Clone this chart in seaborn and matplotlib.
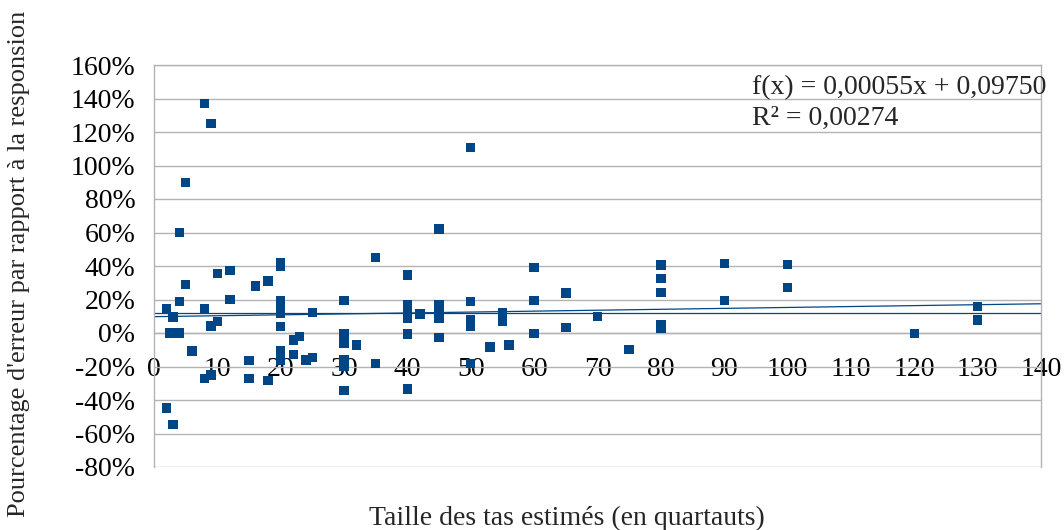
import numpy as np
import pandas as pd
import matplotlib
matplotlib.use("Agg")
import matplotlib.pyplot as plt
from matplotlib.ticker import FuncFormatter
import seaborn as sns

# ---- data ----
taille = [2, 2, 2.5, 3, 3, 4, 4, 4, 5, 5, 6, 8, 8, 8, 9, 9, 9, 10, 10, 12, 12,
          15, 15, 16, 18, 18, 20, 20, 20, 20, 20, 20, 20, 20, 22, 22, 23, 24,
          25, 25, 30, 30, 30, 30, 30, 30, 32, 35, 35, 40, 40, 40, 40, 40, 40,
          40, 42, 45, 45, 45, 45, 45, 50, 50, 50, 50, 50, 53, 55, 55, 55, 56,
          60, 60, 60, 65, 65, 70, 75, 80, 80, 80, 80, 80, 90, 90, 100, 100,
          120, 130, 130]
erreur = [0.143, -0.448, 0.0, 0.095, -0.545, 0.60, 0.187, 0.0, 0.90, 0.29,
          -0.107, 1.37, 0.143, -0.27, 1.25, 0.042, -0.25, 0.356, 0.068, 0.372,
          0.20, -0.165, -0.27, 0.28, 0.31, -0.285, 0.42, 0.40, 0.19, 0.15,
          0.12, 0.038, -0.107, -0.165, -0.042, -0.127, -0.022, -0.16, 0.124,
          -0.147, 0.195, -0.005, -0.06, -0.16, -0.20, -0.345, -0.072, 0.452,
          -0.181, 0.346, 0.17, 0.14, 0.11, 0.09, -0.006, -0.334, 0.113, 0.62,
          0.17, 0.12, 0.09, -0.026, 1.106, 0.187, 0.078, 0.042, -0.181, -0.084,
          0.12, 0.10, 0.07, -0.072, 0.39, 0.193, -0.004, 0.24, 0.032, 0.10,
          -0.10, 0.406, 0.326, 0.241, 0.05, 0.03, 0.416, 0.193, 0.41, 0.273,
          -0.004, 0.159, 0.078]
trend_slope = 0.00055
trend_intercept = 0.09750
mean_level = 0.121
equation_text = "f(x) = 0,00055x + 0,09750"
r2_text = "R² = 0,00274"
x_label = "Taille des tas estimés (en quartauts)"
y_label = "Pourcentage d'erreur par rapport à la responsion"
x_ticks = list(range(0, 141, 10))
y_ticks = [-0.8, -0.6, -0.4, -0.2, 0.0, 0.2, 0.4, 0.6, 0.8, 1.0, 1.2, 1.4, 1.6]

df = pd.DataFrame({"taille": taille, "erreur": erreur})

sns.set_theme(style="white")
plt.rcParams["font.family"] = ["Liberation Serif", "DejaVu Serif"]
plt.rcParams["axes.unicode_minus"] = False

W, H = 1064, 530
fig = plt.figure(figsize=(W / 100, H / 100), dpi=100)
ax = fig.add_axes([154 / W, (H - 467) / H, 887 / W, 402 / H])

blue = "#004586"
grey = "#b3b3b3"

xs = np.array([x_ticks[0], x_ticks[-1]], dtype=float)
ax.plot(xs, [mean_level, mean_level], color=blue, lw=0.9, zorder=2)
ax.plot(xs, trend_intercept + trend_slope * xs, color=blue, lw=0.9, zorder=2)

sns.scatterplot(data=df, x="taille", y="erreur", marker="s", s=46,
                color=blue, edgecolor="none", linewidth=0, ax=ax, zorder=3,
                clip_on=False)

ax.set_xlim(x_ticks[0], x_ticks[-1])
ax.set_ylim(y_ticks[0], y_ticks[-1])
ax.set_xticks(x_ticks)
ax.set_yticks(y_ticks)
ax.yaxis.set_major_formatter(FuncFormatter(lambda v, p: f"{v * 100:.0f}%"))
ax.grid(axis="y", color=grey, lw=1.0)
ax.grid(axis="x", visible=False)
ax.set_axisbelow(True)

for side in ["left", "right", "top", "bottom"]:
    ax.spines[side].set_color(grey)
    ax.spines[side].set_linewidth(1.0)
ax.spines["bottom"].set_position(("data", 0))

ax.tick_params(axis="both", which="major", labelsize=20, colors="black",
               color=grey, width=1.0, length=8.5)
ax.tick_params(axis="x", pad=9, direction="out")
ax.tick_params(axis="y", pad=5, direction="out")
ax.set_xlabel("")
ax.set_ylabel("")

fig.text(567 / W, 1 - 518 / H, x_label, fontsize=20, ha="center", va="center")
fig.text(19 / W, 1 - 264 / H, y_label, fontsize=19, rotation=90,
         ha="center", va="center")
fig.text(752 / W, 1 - 88 / H, equation_text, fontsize=20, ha="left", va="center")
fig.text(752 / W, 1 - 118 / H, r2_text, fontsize=20, ha="left", va="center")

fig.savefig("out.png", dpi=100)
